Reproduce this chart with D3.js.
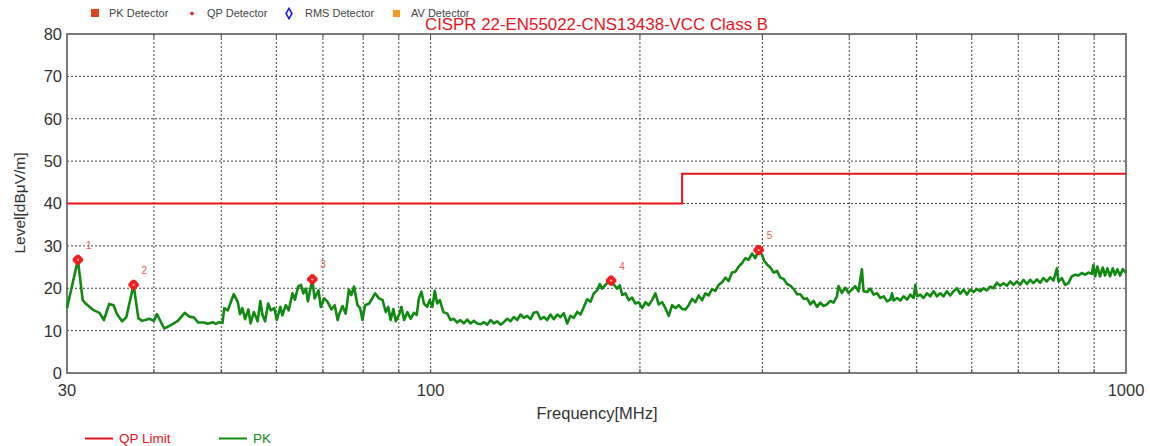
<!DOCTYPE html>
<html>
<head>
<meta charset="utf-8">
<script src="https://cdn.jsdelivr.net/npm/d3@7"></script>
<style>
  html, body { margin: 0; padding: 0; background: #ffffff; }
  svg { display: block; font-family: "Liberation Sans", Arial, sans-serif; }
</style>
</head>
<body>
<svg id="chart" width="1150" height="446"></svg>
<script>
// ---------------- DATA ----------------
const yTicks = [0, 10, 20, 30, 40, 50, 60, 70, 80];
const xTickLabels = [30, 100, 1000];
const xGridFreqs = [40, 50, 60, 70, 80, 90, 100, 200, 300, 400, 500, 600, 700, 800, 900];

const limitFreq  = [30, 230, 230, 1000];
const limitLevel = [40, 40, 47, 47];

const pkFreq = [
  30.0, 31.1, 31.6, 31.9, 32.7, 33.4, 33.9, 34.5, 35.0, 35.4, 36.0, 36.5, 37.4, 38.0, 38.5, 39.4, 40.0, 40.4,
  41.4, 42.3, 43.3, 44.3, 45.0, 45.7, 46.3, 47.2, 47.8, 48.6, 49.1, 49.7, 50.2, 50.5, 51.1, 52.1, 52.8, 53.2,
  53.6, 54.1, 54.7, 55.1, 55.7, 56.4, 56.9, 57.3, 57.8, 58.4, 58.9, 59.6, 60.1, 60.8, 61.2, 61.9, 62.5, 63.3,
  63.8, 64.5, 65.1, 65.6, 66.2, 66.6, 67.6, 68.1, 69.0, 69.5, 70.3, 71.1, 72.0, 72.8, 73.5,
  73.9, 74.7, 75.5, 76.3, 76.9, 77.6, 78.5, 79.2, 79.8, 80.5, 81.6, 82.5, 83.2, 84.3, 85.3, 86.2, 86.9, 87.6,
  88.4, 89.1, 90.1, 90.8, 91.6, 92.6, 93.6, 94.6, 95.5, 96.2, 97.0, 97.8, 98.9, 99.7, 100.6, 101.4, 102.2, 103.1,
  104.3, 105.7, 106.8, 108.0, 109.2, 110.4, 111.6, 112.9, 114.1, 115.4, 116.7, 118.0, 119.3, 120.6, 122.0, 123.3,
  124.7, 126.1, 127.4, 128.9, 130.3, 131.7, 133.2, 134.7, 136.2, 137.7, 139.2, 140.7, 142.3, 143.9, 145.5, 147.1,
  148.7, 150.4, 152.1, 153.7, 155.4, 157.2, 158.9, 160.7, 162.5, 164.3, 166.1, 167.9, 169.8, 171.7, 173.6, 175.1,
  176.5, 178.4,
  179.4, 181.8, 183.8, 185.5, 187.1, 188.6, 190.6, 192.7, 194.9, 197.0, 199.2, 201.5, 203.7, 205.9, 208.2, 210.5,
  212.8, 215.2, 217.6, 220.0, 222.5, 224.9, 227.4, 229.9, 232.5, 235.0, 237.7, 240.3, 242.9, 245.7, 248.4, 251.1,
  253.9, 256.7, 259.6, 262.5, 265.4, 268.3, 271.3, 274.3, 277.3, 280.4, 283.5, 286.6, 289.9, 293.0, 296.3, 299.6,
  302.0, 304.7, 308.0, 311.4, 314.9, 318.4, 321.9, 325.5, 329.1, 332.7, 336.5, 340.2, 343.9, 347.8, 351.6, 355.4,
  359.4, 363.4, 367.4, 371.5, 375.6, 379.7, 384.0, 386.0, 390.4, 394.7, 399.0, 403.5, 407.9, 412.4, 417.1, 419.3,
  424.3, 428.9, 433.6, 438.5, 443.3, 448.2, 453.3, 458.3, 460.8, 463.3, 468.5, 473.7, 478.9, 484.3, 489.6, 495.0,
  497.8, 500.6, 506.0, 511.5, 517.3, 523.0, 528.7, 534.7, 540.6, 546.5, 552.7, 558.8, 564.9, 571.3, 577.6, 583.9,
  590.5, 597.0, 603.6, 610.4, 617.1, 623.9, 630.9, 637.9, 644.9, 652.2, 659.3, 666.6, 674.1, 681.5, 689.0, 696.8,
  704.4, 712.1, 720.2, 728.1, 736.1, 744.4, 752.6, 760.8, 769.5, 777.9, 786.5, 795.4, 799.5, 808.5, 817.4, 826.4,
  835.7, 844.9, 854.2, 863.8, 873.3, 882.9, 892.9, 897.6, 902.7, 909.6, 917.7, 926.0, 933.0, 940.2, 948.6, 957.1,
  964.4, 971.8, 980.5, 989.3, 1000
];
const pkLevel = [
  15.3, 26.7, 17.2, 16.4, 14.9, 14.2, 12.5, 16.3, 16.0, 13.9, 12.2, 13.1, 20.8, 12.9, 12.3, 12.8, 12.3, 13.9,
  10.5, 11.3, 12.3, 14.2, 13.3, 13.1, 11.9, 11.9, 11.6, 12.0, 11.6, 12.0, 11.8, 15.3, 14.8, 18.6, 16.8, 13.9,
  15.3, 12.7, 15.0, 11.7, 14.4, 12.2, 17.0, 13.8, 12.2, 16.4, 14.8, 15.3, 12.5, 15.6, 13.6, 16.0, 14.8, 18.8,
  17.3, 20.4, 20.8, 18.8, 19.9, 16.9, 22.1, 17.6, 19.5, 15.6, 17.6, 16.8, 15.0, 16.0, 12.5,
  13.9, 15.8, 14.0, 19.7, 18.4, 20.4, 16.0, 15.3, 12.5, 16.0, 16.4, 17.7, 18.8, 17.6, 17.2, 14.4, 15.6, 12.5,
  15.1, 12.2, 13.8, 15.6, 12.5, 14.4, 12.8, 14.2, 13.7, 17.6, 19.2, 16.4, 15.6, 17.2, 15.6, 19.4, 16.4, 17.2,
  14.4, 14.0, 12.5, 12.8, 11.9, 12.5, 11.7, 12.6, 11.7, 12.3, 11.7, 11.5, 12.0, 11.4, 12.5, 11.7,
  12.2, 11.4, 12.0, 12.8, 12.2, 13.2, 12.5, 13.8, 13.0, 13.5, 12.7, 14.2, 14.4, 12.7, 13.2, 12.5,
  13.8, 12.7, 13.8, 13.2, 14.1, 11.7, 13.5, 13.0, 14.4, 13.8, 15.6, 17.4, 16.8, 18.8, 19.5, 21.0,
  19.9, 20.8,
  21.2, 21.8, 20.7, 19.9, 20.7, 18.4, 18.8, 17.2, 17.8, 16.4, 16.7, 15.3, 16.7, 16.0, 17.2, 18.8,
  16.2, 16.7, 15.3, 13.5, 16.0, 15.3, 16.0, 15.1, 15.0, 16.0, 17.5, 16.7, 18.3, 17.2, 18.8, 18.3,
  19.8, 19.4, 20.8, 21.4, 22.5, 21.7, 23.7, 23.9, 25.1, 25.9, 27.1, 26.7, 28.2, 27.1, 29.0, 27.9,
  26.4, 25.6, 24.9, 23.7, 24.1, 22.5, 22.2, 21.0, 20.6, 19.8, 18.6, 18.6, 17.5, 17.6, 16.2, 17.0,
  15.6, 16.6, 15.8, 16.2, 17.0, 16.6, 18.1, 20.5, 18.9, 20.1, 18.9, 19.7, 20.5, 19.3, 24.5, 19.3,
  19.1, 19.9, 18.5, 18.8, 17.7, 18.1, 16.9, 17.3, 18.8, 17.1, 17.7, 17.1, 18.1, 17.3, 18.5, 17.7,
  20.8, 18.1, 18.5, 17.7, 18.8, 18.1, 19.3, 18.1, 18.8, 18.1, 19.3, 18.3, 19.3, 20.0, 18.7, 19.7,
  18.5, 19.7, 19.1, 19.8, 19.3, 20.0, 19.5, 20.4, 20.0, 21.3, 20.6, 21.2, 20.6, 21.6, 20.8, 21.6,
  20.8, 22.0, 21.0, 22.0, 21.2, 22.1, 21.3, 22.4, 21.6, 22.6, 21.8, 24.7, 21.6, 22.4, 20.8, 21.2,
  22.8, 23.2, 23.0, 23.6, 23.2, 23.7, 23.4, 25.5, 22.8, 25.1, 22.8, 24.9, 23.0, 24.7, 22.8, 24.7,
  23.2, 24.5, 23.0, 24.5, 23.6
];

const markerFreq  = [31.1, 37.4, 67.6, 181.8, 296.3];
const markerLevel = [26.7, 20.8, 22.1, 21.8, 29.0];
const markerNames = ["1", "2", "3", "4", "5"];

const detectorNames = ["PK Detector", "QP Detector", "RMS Detector", "AV Detector"];
const titleText = "CISPR 22-EN55022-CNS13438-VCC Class B";
const seriesNames = ["QP Limit", "PK"];

// ---------------- CHART ----------------
const svg = d3.select("#chart");
const L = 67, R = 1126, T = 34, B = 373;

const x = d3.scaleLog().domain([30, 1000]).range([L, R]);
const y = d3.scaleLinear().domain([0, 80]).range([B, T]);

// gridlines
const grid = svg.append("g");
grid.selectAll("line.hg").data(yTicks.filter(d => d > 0 && d < 80)).enter().append("line")
  .attr("x1", L).attr("x2", R).attr("y1", d => y(d)).attr("y2", d => y(d))
  .attr("stroke", "#444").attr("stroke-width", 1).attr("stroke-dasharray", "2,2");
grid.selectAll("line.vg").data(xGridFreqs).enter().append("line")
  .attr("x1", d => x(d)).attr("x2", d => x(d)).attr("y1", T).attr("y2", B)
  .attr("stroke", "#444").attr("stroke-width", 1).attr("stroke-dasharray", "2,2");

// inner ticks
grid.selectAll("line.bt").data(xGridFreqs).enter().append("line")
  .attr("x1", d => x(d)).attr("x2", d => x(d)).attr("y1", B).attr("y2", B - 4)
  .attr("stroke", "#555").attr("stroke-width", 1);
grid.selectAll("line.tt").data(xGridFreqs).enter().append("line")
  .attr("x1", d => x(d)).attr("x2", d => x(d)).attr("y1", T).attr("y2", T + 4)
  .attr("stroke", "#555").attr("stroke-width", 1);

// frame
svg.append("rect").attr("x", L).attr("y", T).attr("width", R - L).attr("height", B - T)
  .attr("fill", "none").attr("stroke", "#5a5a5a").attr("stroke-width", 1.6);

// y axis labels
svg.append("g").selectAll("text").data(yTicks).enter().append("text")
  .attr("x", L - 5).attr("y", d => y(d)).attr("dy", "0.36em")
  .attr("text-anchor", "end").attr("font-size", 16.5).attr("fill", "#333")
  .text(d => d);

// x axis labels
svg.append("g").selectAll("text").data(xTickLabels).enter().append("text")
  .attr("x", d => x(d)).attr("y", 396)
  .attr("text-anchor", "middle").attr("font-size", 16.5).attr("fill", "#333")
  .text(d => d);

// axis titles
svg.append("text").attr("x", 597).attr("y", 419).attr("text-anchor", "middle")
  .attr("font-size", 16.5).attr("fill", "#333").text("Frequency[MHz]");
svg.append("text").attr("transform", "translate(25,203) rotate(-90)")
  .attr("text-anchor", "middle").attr("font-size", 15.5).attr("fill", "#333")
  .text("Level[dB\u03BCV/m]");

// limit line
const limitData = limitFreq.map((f, i) => [f, limitLevel[i]]);
svg.append("path").datum(limitData)
  .attr("d", d3.line().x(d => x(d[0])).y(d => y(d[1])))
  .attr("fill", "none").attr("stroke", "#e8141c").attr("stroke-width", 2);

// PK trace
const pkData = pkFreq.map((f, i) => [f, pkLevel[i]]);
svg.append("path").datum(pkData)
  .attr("d", d3.line().x(d => x(d[0])).y(d => y(d[1])))
  .attr("fill", "none").attr("stroke", "#118a11").attr("stroke-width", 2.6)
  .attr("stroke-linejoin", "round");

// markers
const markers = markerFreq.map((f, i) => ({ f, v: markerLevel[i], n: markerNames[i] }));
const mg = svg.append("g").selectAll("g").data(markers).enter().append("g")
  .attr("transform", d => `translate(${x(d.f)},${y(d.v)})`);
mg.append("path").attr("d", d3.symbol(d3.symbolCross).size(60)).attr("fill", "#f01c1c");
mg.append("circle").attr("r", 3.6).attr("fill", "none").attr("stroke", "#f01c1c").attr("stroke-width", 2);
mg.append("circle").attr("r", 1.2).attr("fill", "#f7a0a0");
mg.append("text").attr("x", 8).attr("y", -11).attr("font-size", 10).attr("fill", "#e85858")
  .text(d => d.n);

// title
svg.append("text").attr("x", 425).attr("y", 30).attr("font-size", 16.5).attr("fill", "#e8141c")
  .attr("textLength", 343).attr("lengthAdjust", "spacingAndGlyphs").text(titleText);

// top legend
const tl = svg.append("g");
const legX = [91, 187, 285, 393];
const textX = [109, 207, 305, 411];
tl.append("rect").attr("x", legX[0]).attr("y", 9).attr("width", 8).attr("height", 8).attr("fill", "#e0441c");
tl.append("circle").attr("cx", legX[1] + 5).attr("cy", 13.5).attr("r", 1.8).attr("fill", "#e01c1c");
tl.append("path").attr("transform", `translate(${legX[2] + 4},13.5)`)
  .attr("d", d3.symbol(d3.symbolDiamond).size(30)).attr("fill", "none")
  .attr("stroke", "#1c1ce0").attr("stroke-width", 1.6);
tl.append("rect").attr("x", legX[3]).attr("y", 10).attr("width", 7).attr("height", 7).attr("fill", "#f59a1e");
tl.selectAll("text").data(detectorNames).enter().append("text")
  .attr("x", (d, i) => textX[i]).attr("y", 17).attr("font-size", 11).attr("fill", "#444")
  .text(d => d);

// bottom legend
const bl = svg.append("g");
const seriesColors = ["#e8141c", "#118a11"];
const blLineX = [85, 219];
bl.selectAll("line").data(seriesNames).enter().append("line")
  .attr("x1", (d, i) => blLineX[i]).attr("x2", (d, i) => blLineX[i] + 28)
  .attr("y1", 438.5).attr("y2", 438.5)
  .attr("stroke", (d, i) => seriesColors[i]).attr("stroke-width", 2);
bl.selectAll("text").data(seriesNames).enter().append("text")
  .attr("x", (d, i) => blLineX[i] + 34).attr("y", 443).attr("font-size", 13.5)
  .attr("fill", (d, i) => seriesColors[i]).text(d => d);
</script>
</body>
</html>
